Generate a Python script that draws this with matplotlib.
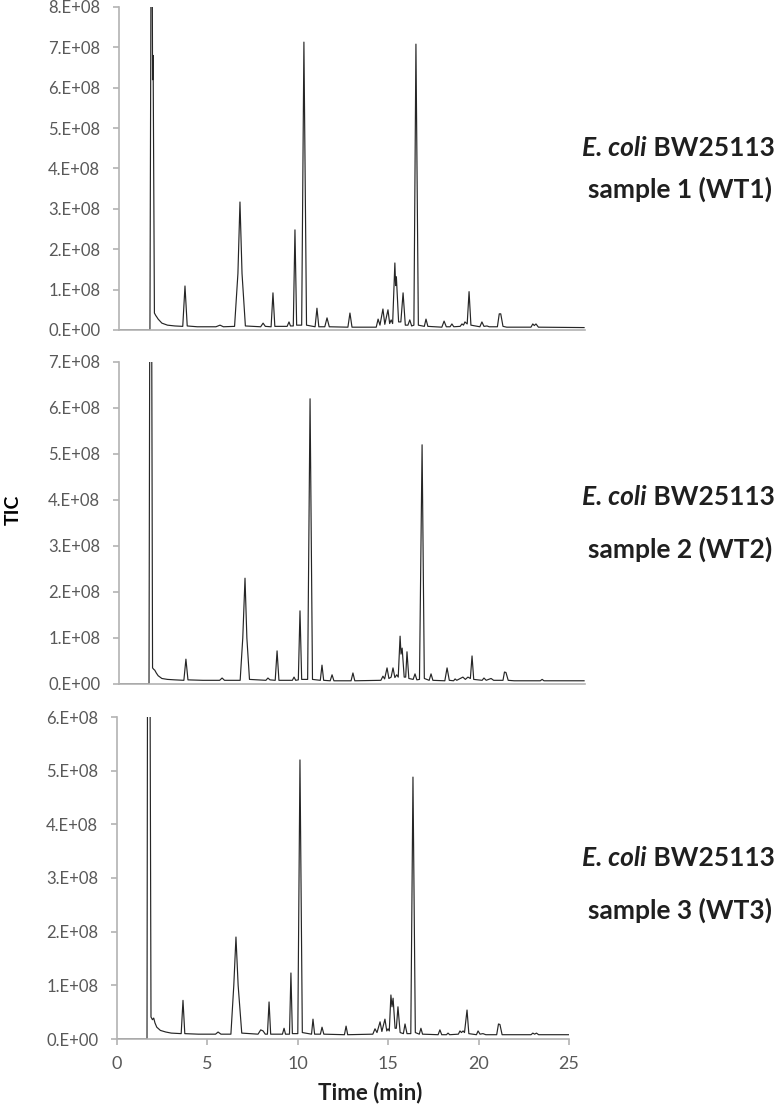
import numpy as np
import matplotlib.pyplot as plt
from matplotlib.ticker import FuncFormatter

plt.rcParams['font.family'] = ['Lato', 'DejaVu Sans']

# (time in min, TIC in units of 1e8)
wt1_points = [
    (0.00, 0.00), (1.66, 0.00), (1.72, 9.50), (1.78, 9.50), (1.80, 6.20), (1.83, 6.80),
    (1.90, 0.42), (1.97, 0.36), (2.03, 0.32), (2.10, 0.27), (2.20, 0.22), (2.30, 0.17),
    (2.60, 0.12), (3.00, 0.10), (3.42, 0.09), (3.54, 1.09), (3.66, 0.10), (4.20, 0.08),
    (5.20, 0.08), (5.42, 0.12), (5.60, 0.08), (6.20, 0.09), (6.38, 1.40), (6.49, 3.17),
    (6.60, 1.40), (6.78, 0.10), (7.60, 0.08), (7.73, 0.17), (7.85, 0.09), (8.16, 0.08),
    (8.26, 0.92), (8.36, 0.09), (9.02, 0.09), (9.12, 0.20), (9.20, 0.10), (9.35, 0.10),
    (9.44, 2.48), (9.53, 0.12), (9.80, 0.12), (9.92, 7.13), (10.06, 0.12), (10.52, 0.08),
    (10.62, 0.54), (10.72, 0.08), (11.04, 0.08), (11.16, 0.30), (11.28, 0.08), (12.28, 0.07),
    (12.39, 0.42), (12.50, 0.07), (13.80, 0.07), (13.90, 0.27), (14.00, 0.12), (14.16, 0.52),
    (14.26, 0.14), (14.43, 0.50), (14.52, 0.16), (14.60, 0.25), (14.68, 0.16), (14.80, 1.66),
    (14.84, 1.10), (14.88, 1.32), (15.00, 0.20), (15.12, 0.20), (15.24, 0.92), (15.36, 0.12),
    (15.50, 0.12), (15.60, 0.25), (15.70, 0.10), (15.82, 0.12), (15.93, 7.08), (16.06, 0.12),
    (16.38, 0.09), (16.47, 0.27), (16.57, 0.09), (17.32, 0.07), (17.44, 0.22), (17.56, 0.08),
    (17.76, 0.08), (17.86, 0.15), (17.96, 0.08), (18.30, 0.09), (18.40, 0.15), (18.48, 0.12),
    (18.56, 0.20), (18.68, 0.15), (18.78, 0.95), (18.88, 0.12), (19.36, 0.08), (19.47, 0.20),
    (19.58, 0.09), (19.74, 0.10), (19.86, 0.08), (20.30, 0.08), (20.40, 0.40), (20.48, 0.40),
    (20.60, 0.09), (20.80, 0.07), (22.10, 0.07), (22.20, 0.15), (22.28, 0.11), (22.37, 0.15),
    (22.50, 0.07), (24.95, 0.06),
]

wt2_points = [
    (0.00, 0.00), (1.61, 0.00), (1.66, 10.0), (1.74, 10.0), (1.80, 0.35), (1.86, 0.32),
    (1.92, 0.30), (2.00, 0.24), (2.10, 0.18), (2.30, 0.12), (2.60, 0.10), (3.00, 0.09),
    (3.48, 0.08), (3.59, 0.54), (3.70, 0.09), (4.50, 0.08), (5.40, 0.08), (5.53, 0.13),
    (5.66, 0.08), (6.50, 0.08), (6.64, 1.00), (6.76, 2.30), (6.86, 1.00), (7.00, 0.10),
    (7.88, 0.08), (7.99, 0.13), (8.10, 0.09), (8.38, 0.08), (8.48, 0.72), (8.58, 0.08),
    (9.30, 0.08), (9.39, 0.15), (9.48, 0.08), (9.62, 0.09), (9.71, 1.59), (9.80, 0.10),
    (10.12, 0.10), (10.25, 6.20), (10.38, 0.10), (10.80, 0.08), (10.89, 0.41), (10.98, 0.08),
    (11.33, 0.07), (11.43, 0.20), (11.53, 0.07), (12.45, 0.07), (12.55, 0.24), (12.65, 0.07),
    (14.05, 0.08), (14.16, 0.17), (14.25, 0.11), (14.38, 0.35), (14.48, 0.12), (14.60, 0.15),
    (14.70, 0.35), (14.80, 0.14), (14.90, 0.20), (14.98, 0.15), (15.08, 1.04), (15.13, 0.65),
    (15.19, 0.78), (15.30, 0.15), (15.38, 0.15), (15.45, 0.70), (15.55, 0.12), (15.78, 0.10),
    (15.88, 0.22), (15.98, 0.09), (16.12, 0.10), (16.26, 5.20), (16.38, 0.12), (16.64, 0.08),
    (16.74, 0.22), (16.84, 0.08), (17.48, 0.07), (17.60, 0.35), (17.72, 0.08), (17.95, 0.07),
    (18.03, 0.11), (18.12, 0.08), (18.45, 0.15), (18.58, 0.10), (18.72, 0.15), (18.85, 0.12),
    (18.94, 0.61), (19.03, 0.10), (19.48, 0.08), (19.58, 0.13), (19.70, 0.08), (19.96, 0.12),
    (20.10, 0.08), (20.60, 0.08), (20.68, 0.26), (20.76, 0.25), (20.88, 0.08), (21.20, 0.07),
    (22.60, 0.07), (22.70, 0.10), (22.80, 0.07), (24.95, 0.07),
]

wt3_points = [
    (0.00, 0.00), (1.66, 0.00), (1.70, 10.0), (1.80, 10.0), (1.88, 0.41), (1.96, 0.36),
    (2.03, 0.39), (2.10, 0.30), (2.20, 0.22), (2.40, 0.16), (2.70, 0.13), (3.00, 0.11),
    (3.55, 0.10), (3.65, 0.72), (3.75, 0.10), (4.50, 0.09), (5.45, 0.09), (5.59, 0.13),
    (5.75, 0.09), (6.30, 0.09), (6.46, 1.00), (6.58, 1.90), (6.70, 1.00), (6.90, 0.11),
    (7.80, 0.09), (7.95, 0.17), (8.08, 0.15), (8.20, 0.09), (8.32, 0.09), (8.41, 0.69),
    (8.50, 0.09), (9.15, 0.09), (9.24, 0.20), (9.32, 0.09), (9.54, 0.09), (9.62, 1.23),
    (9.70, 0.10), (10.00, 0.10), (10.12, 5.20), (10.25, 0.12), (10.76, 0.09), (10.84, 0.37),
    (10.93, 0.09), (11.25, 0.09), (11.34, 0.22), (11.44, 0.09), (12.58, 0.08), (12.67, 0.24),
    (12.76, 0.08), (14.15, 0.09), (14.27, 0.19), (14.38, 0.12), (14.55, 0.32), (14.65, 0.14),
    (14.82, 0.37), (14.92, 0.15), (14.99, 0.19), (15.06, 0.15), (15.15, 0.82), (15.21, 0.60),
    (15.27, 0.76), (15.38, 0.20), (15.45, 0.20), (15.54, 0.60), (15.66, 0.12), (15.84, 0.10),
    (15.93, 0.28), (16.04, 0.10), (16.25, 0.10), (16.37, 4.88), (16.50, 0.12), (16.72, 0.09),
    (16.81, 0.20), (16.90, 0.09), (17.76, 0.08), (17.86, 0.17), (17.96, 0.08), (18.22, 0.08),
    (18.31, 0.11), (18.40, 0.08), (18.88, 0.09), (18.97, 0.15), (19.05, 0.12), (19.14, 0.15),
    (19.22, 0.12), (19.36, 0.54), (19.46, 0.10), (19.88, 0.08), (19.97, 0.15), (20.08, 0.09),
    (20.24, 0.10), (20.40, 0.08), (21.00, 0.08), (21.10, 0.28), (21.18, 0.27), (21.30, 0.08),
    (22.90, 0.08), (23.00, 0.11), (23.10, 0.09), (23.20, 0.11), (23.32, 0.08), (25.00, 0.08),
]

sample_labels = ["sample 1 (WT1)", "sample 2 (WT2)", "sample 3 (WT3)"]
y_max = [8e8, 7e8, 6e8]
x_ticks = [0, 5, 10, 15, 20, 25]

W, H = 778, 1112
fig = plt.figure(figsize=(W / 100, H / 100), dpi=100)

# pixel boxes (left, top, right, bottom) of each panel
boxes = [(119, 7, 585, 330), (119, 362, 585, 684), (117, 717, 569, 1039)]
label_y = [(148, 189), (497, 549), (858, 910)]

axis_grey = "#B3B3B3"
text_grey = "#595959"
ink = "#1f1f1f"
sci = FuncFormatter(lambda v, pos: f"{v:.0E}".replace("E", ".E"))

for i, points in enumerate([wt1_points, wt2_points, wt3_points]):
    l, t, r, b = boxes[i]
    ax = fig.add_axes([l / W, 1 - b / H, (r - l) / W, (b - t) / H])
    time, tic = np.array(points).T
    ax.plot(time, tic * 1e8, color="#262626", lw=0.85)
    ax.set_xlim(0, 25)
    ax.set_ylim(0, y_max[i])
    ax.set_yticks(np.arange(0, y_max[i] + 1, 1e8))
    ax.yaxis.set_major_formatter(sci)
    for side in ["top", "right"]:
        ax.spines[side].set_visible(False)
    for side in ["left", "bottom"]:
        ax.spines[side].set_color(axis_grey)
        ax.spines[side].set_linewidth(1.2)
    ax.tick_params(axis="y", direction="out", length=4.5, width=1.2, color=axis_grey,
                   labelcolor=text_grey, labelsize=12, pad=9)
    if i < 2:
        ax.set_xticks([])
    else:
        ax.set_xticks(x_ticks)
        ax.tick_params(axis="x", direction="out", length=4.5, width=1.2, color=axis_grey,
                       labelcolor=text_grey, labelsize=13, pad=8)

    y1, y2 = label_y[i]
    t1 = fig.text(582 / W, 1 - y1 / H, "E. coli", fontsize=19, fontweight="bold",
                  fontstyle="italic", color=ink, ha="left", va="center")
    ax.annotate(" BW25113", xy=(1, 0), xycoords=t1, fontsize=19, fontweight="bold",
                color=ink, ha="left", va="bottom", annotation_clip=False)
    fig.text(680 / W, 1 - y2 / H, sample_labels[i], fontsize=19, fontweight="bold",
             color=ink, ha="center", va="center")

fig.text(13 / W, 1 - 510 / H, "TIC", rotation=90, fontsize=14, fontweight="bold",
         color="#000000", ha="center", va="center")
fig.text(370 / W, 1 - 1093 / H, "Time (min)", fontsize=16, fontweight="bold",
         color=ink, ha="center", va="center")

fig.savefig("out.png", dpi=100)
